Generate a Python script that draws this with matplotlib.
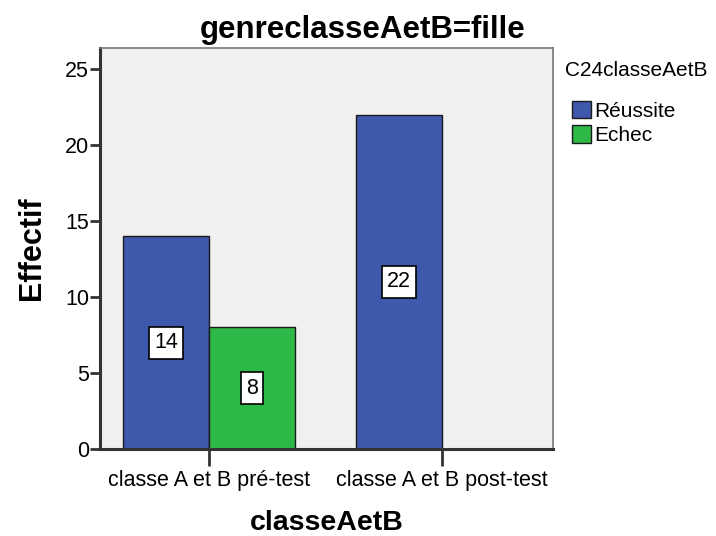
import matplotlib.pyplot as plt
import numpy as np

plt.rcParams['font.family'] = ['Liberation Sans', 'DejaVu Sans']

# data
categories = ['classe A et B pré-test', 'classe A et B post-test']
series_names = ['Réussite', 'Echec']
reussite = [14, 22]
echec = [8, 0]
colors = ['#3e58ac', '#2eb848']

fig = plt.figure(figsize=(7.16, 5.36), dpi=100)
ax = fig.add_axes([100/716, 1 - 449/536, 453/716, 401/536])
ax.set_facecolor('#f0f0f0')

x = np.arange(len(categories))
w = 0.37
handles = []
for vals, off, col, name in [(reussite, -w/2, colors[0], series_names[0]),
                             (echec, w/2, colors[1], series_names[1])]:
    bars = ax.bar(x + off, vals, width=w, color=col, edgecolor='#1a1a1a',
                  linewidth=1.0, label=name, zorder=2)
    handles.append(bars)
    for xi, v in zip(x + off, vals):
        if v > 0:
            ax.text(xi, v / 2, str(v), ha='center', va='center', fontsize=15.5,
                    zorder=3,
                    bbox=dict(boxstyle='square,pad=0.25', fc='white',
                              ec='black', lw=1.2))

ax.set_xlim(-0.468, 1.476)
ax.set_ylim(0, 26.4)
ax.set_yticks([0, 5, 10, 15, 20, 25])
ax.set_xticks(x)
ax.set_xticklabels(categories, fontsize=15.5)
ax.tick_params(axis='y', labelsize=15.5, length=7, width=2, color='#333333', pad=1)
ax.tick_params(axis='x', length=12, width=2, color='#333333', pad=3)

for s in ['left', 'bottom']:
    ax.spines[s].set_linewidth(2.2)
    ax.spines[s].set_color('#333333')
for s in ['top', 'right']:
    ax.spines[s].set_linewidth(1.2)
    ax.spines[s].set_color('#777777')

ax.set_ylabel('Effectif', fontsize=22, fontweight='bold', labelpad=13)
ax.set_xlabel('classeAetB', fontsize=20.5, fontweight='bold', labelpad=14)
fig.text(363/716, 1 - 30/536, 'genreclasseAetB=fille', ha='center', va='center',
         fontsize=22.5, fontweight='bold')

# legend title drawn separately so it can sit left of the entries
fig.text(565/716, 1 - 71/536, 'C24classeAetB', ha='left', va='center',
         fontsize=15)
leg = fig.legend(handles=handles, labels=series_names,
                 loc='upper left', bbox_to_anchor=(570/716, 1 - 99/536),
                 frameon=False, fontsize=15,
                 handlelength=0.9, handleheight=0.9, handletextpad=0.15,
                 labelspacing=0.22, borderpad=0.1, borderaxespad=0)

fig.savefig('out.png', dpi=100)
